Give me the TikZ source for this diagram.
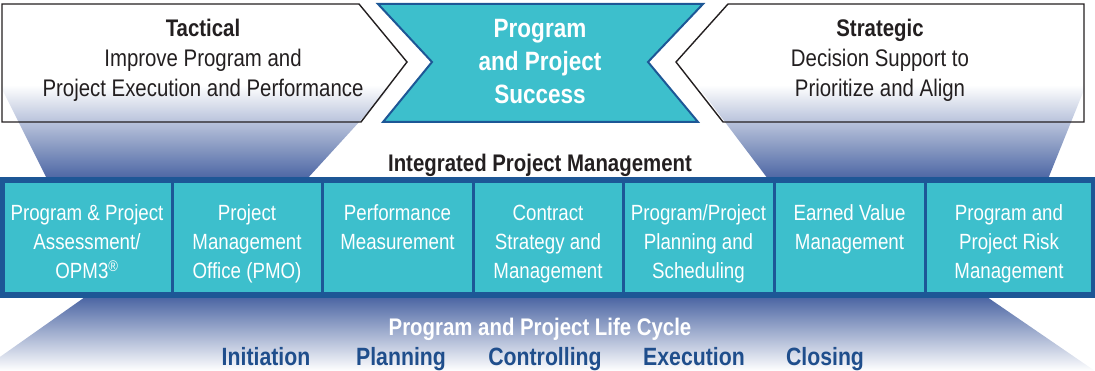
\documentclass[tikz,border=0pt]{standalone}
\usepackage{fontspec}
\setmainfont[FakeStretch=0.85]{Liberation Sans}
\usetikzlibrary{positioning}
\definecolor{ppteal}{HTML}{3DBFCC}
\definecolor{ppdark}{HTML}{1D5796}
\definecolor{ppfan}{HTML}{4B65A3}
\definecolor{pptext}{HTML}{231F20}
\definecolor{ppphase}{HTML}{1F4E8C}
\tikzset{
  cell/.style={draw=ppdark, line width=3pt, fill=ppteal, minimum height=112pt, inner sep=0pt},
  celltext/.style={text=white, align=center, anchor=north, inner sep=0pt, font=\fontsize{22}{29}\selectfont},
  goal/.style={text=pptext, align=center, anchor=north, inner sep=0pt, font=\fontsize{24}{30}\selectfont},
  phase/.style={text=ppphase, anchor=base, inner sep=0pt, font=\fontsize{25}{28}\selectfont\bfseries}
}
\begin{document}
\begin{tikzpicture}[x=1pt, y=-1pt]
  \useasboundingbox (0,0) rectangle (1095,371);
  \clip (0,0) rectangle (1095,371);

  % fans under the two goal boxes
  \shade[top color=white, bottom color=ppfan] (0,85) -- (393,85) -- (307,179) -- (47,179) -- cycle;
  \shade[top color=white, bottom color=ppfan] (697,85) -- (1086,85) -- (1048,179) -- (768,179) -- cycle;

  % goal boxes
  \draw[pptext, line width=1.4pt, line join=miter] (2,4) -- (359,4) -- (407,62) -- (361,122) -- (2,122) -- cycle;
  \draw[pptext, line width=1.4pt, line join=miter] (728,4) -- (1084,4) -- (1084,122) -- (723,122) -- (676,62) -- cycle;
  \filldraw[fill=ppteal, draw=ppdark, line width=2pt] (378,4) -- (703,4) -- (648,62) -- (698,122) -- (383,122) -- (432,62) -- cycle;

  \node[goal] (tactical) at (203,18.5) {\textbf{Tactical}\\Improve Program and\\Project Execution and Performance};
  \node[goal] (strategic) at (880,18.5) {\textbf{Strategic}\\Decision Support to\\Prioritize and Align};
  \node[goal, text=white, font=\fontsize{26.5}{33}\selectfont\bfseries] (success) at (540,19.5) {Program\\and Project\\Success};

  \node[text=pptext, anchor=base, inner sep=0pt, font=\fontsize{24}{28}\selectfont\bfseries] (ipm) at (540,172) {Integrated Project Management};

  % bottom fan
  \shade[top color=ppfan, bottom color=white] (85,297) -- (987,297) -- (1095,371) -- (0,371) -- (-20,371) -- cycle;

  % row of practices
  \node[cell, minimum width=170pt] (assess) at (87,238) {};
  \node[cell, minimum width=150pt] (pmo) at (247,238) {};
  \node[cell, minimum width=151pt] (perf) at (397.5,238) {};
  \node[cell, minimum width=150pt] (contract) at (548,238) {};
  \node[cell, minimum width=151pt] (plan) at (698.5,238) {};
  \node[cell, minimum width=151pt] (evm) at (849.5,238) {};
  \node[cell, minimum width=168pt] (risk) at (1009,238) {};
  \draw[ppdark, line width=5pt] (2,180) rectangle (1093,296);

  \node[celltext] at (assess.north |- 0,204.5) {Program \& Project\\Assessment/\\OPM3\textsuperscript{\textregistered}};
  \node[celltext] at (pmo.north |- 0,204.5) {Project\\Management\\Office (PMO)};
  \node[celltext] at (perf.north |- 0,204.5) {Performance\\Measurement};
  \node[celltext] at (contract.north |- 0,204.5) {Contract\\Strategy and\\Management};
  \node[celltext] at (plan.north |- 0,204.5) {Program/Project\\Planning and\\Scheduling};
  \node[celltext] at (evm.north |- 0,204.5) {Earned Value\\Management};
  \node[celltext] at (risk.north |- 0,204.5) {Program and\\Project Risk\\Management};

  % life cycle
  \node[text=white, anchor=base, inner sep=0pt, font=\fontsize{24}{28}\selectfont\bfseries] (cycle) at (540,335) {Program and Project Life Cycle};
  \node[phase] (init) at (266,365) {Initiation};
  \node[phase] (planning) at (401,365) {Planning};
  \node[phase] (ctrl) at (545,365) {Controlling};
  \node[phase] (exec) at (694,365) {Execution};
  \node[phase] (closing) at (825,365) {Closing};
\end{tikzpicture}
\end{document}
